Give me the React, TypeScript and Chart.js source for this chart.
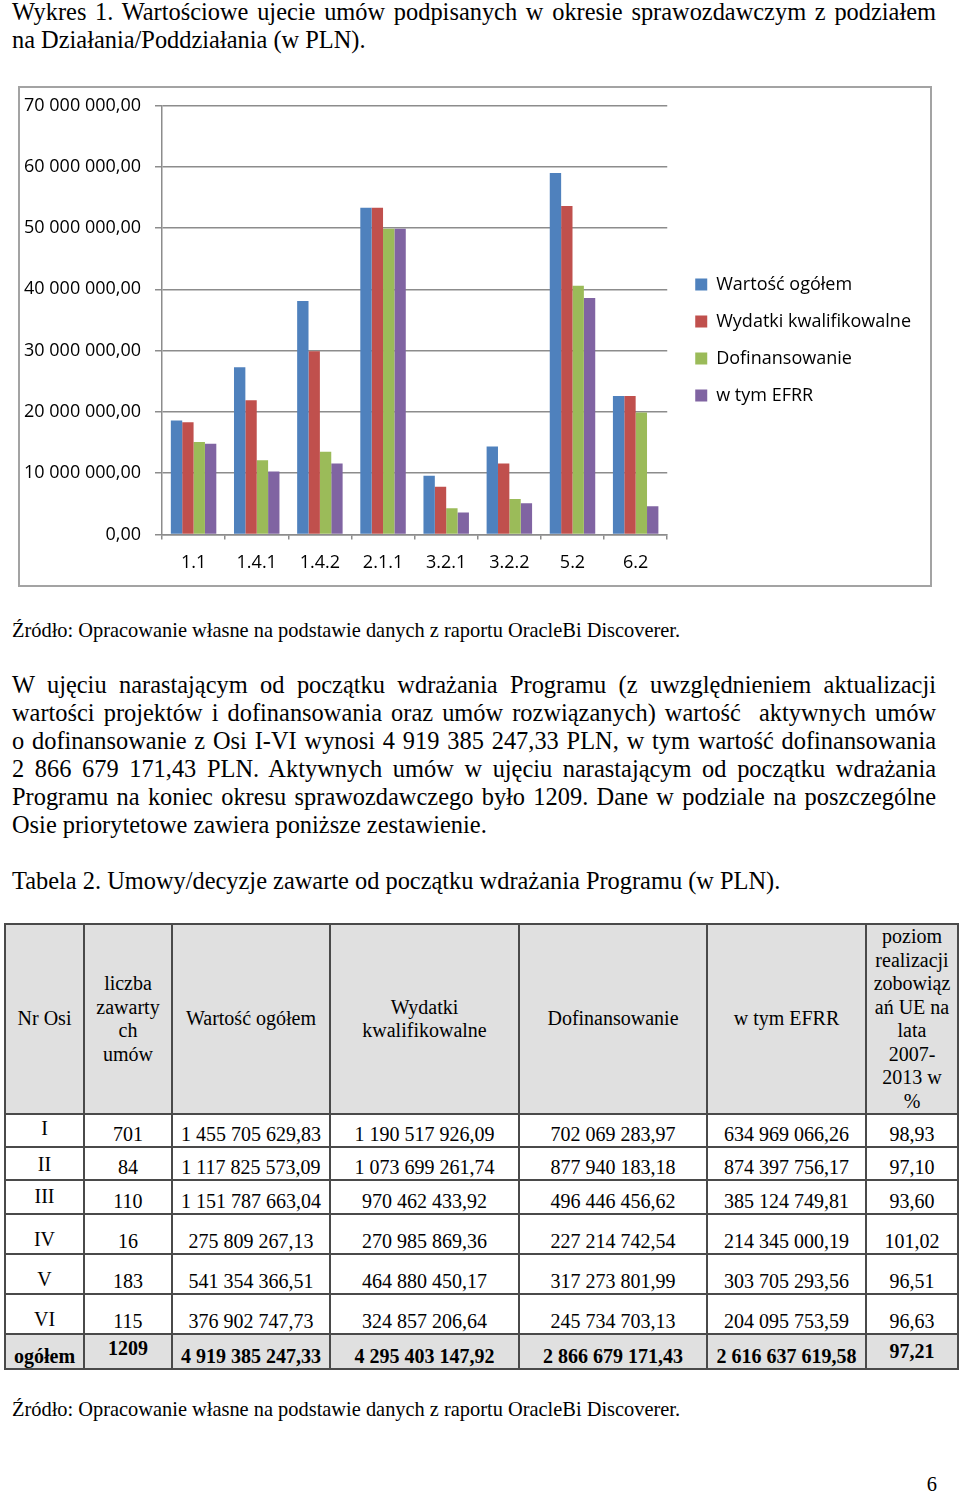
import React, { useEffect, useRef } from 'react';
import { Chart, registerables } from 'chart.js';

Chart.register(...registerables);

// ---------- chart data ----------
const categories = ['1.1', '1.4.1', '1.4.2', '2.1.1', '3.2.1', '3.2.2', '5.2', '6.2'];
const seriesNames = ['Wartość ogółem', 'Wydatki kwalifikowalne', 'Dofinansowanie', 'w tym EFRR'];
const wartoscOgolem = [18.6e6, 27.3e6, 38.1e6, 53.3e6, 9.6e6, 14.35e6, 59.0e6, 22.6e6];
const wydatkiKwalifikowalne = [18.3e6, 21.9e6, 29.9e6, 53.3e6, 7.8e6, 11.6e6, 53.6e6, 22.6e6];
const dofinansowanie = [15.1e6, 12.1e6, 13.5e6, 49.9e6, 4.3e6, 5.8e6, 40.6e6, 19.9e6];
const wTymEFRR = [14.8e6, 10.3e6, 11.6e6, 49.9e6, 3.6e6, 5.1e6, 38.6e6, 4.6e6];
const seriesValues = [wartoscOgolem, wydatkiKwalifikowalne, dofinansowanie, wTymEFRR];
const seriesColors = ['#4F81BD', '#C0504D', '#9BBB59', '#8064A2'];
const yMax = 70e6;
const yStep = 10e6;

// ---------- table data ----------
const osie = ['I', 'II', 'III', 'IV', 'V', 'VI'];
const liczbaUmow = ['701', '84', '110', '16', '183', '115'];
const wartoscOsi = ['1 455 705 629,83', '1 117 825 573,09', '1 151 787 663,04', '275 809 267,13', '541 354 366,51', '376 902 747,73'];
const wydatkiOsi = ['1 190 517 926,09', '1 073 699 261,74', '970 462 433,92', '270 985 869,36', '464 880 450,17', '324 857 206,64'];
const dofinansowanieOsi = ['702 069 283,97', '877 940 183,18', '496 446 456,62', '227 214 742,54', '317 273 801,99', '245 734 703,13'];
const efrrOsi = ['634 969 066,26', '874 397 756,17', '385 124 749,81', '214 345 000,19', '303 705 293,56', '204 095 753,59'];
const poziomOsi = ['98,93', '97,10', '93,60', '101,02', '96,51', '96,63'];
const sumaRow = ['ogółem', '1209', '4 919 385 247,33', '4 295 403 147,92', '2 866 679 171,43', '2 616 637 619,58', '97,21'];

const titleLines = [
  'Wykres 1. Wartościowe ujecie umów podpisanych w okresie sprawozdawczym z podziałem',
  'na Działania/Poddziałania (w PLN).',
];
const paragraphLines = [
  'W ujęciu narastającym od początku wdrażania Programu (z uwzględnieniem aktualizacji',
  'wartości projektów i dofinansowania oraz umów rozwiązanych) wartość  aktywnych umów',
  'o dofinansowanie z Osi I-VI wynosi 4 919 385 247,33 PLN, w tym wartość dofinansowania',
  '2 866 679 171,43 PLN. Aktywnych umów w ujęciu narastającym od początku wdrażania',
  'Programu na koniec okresu sprawozdawczego było 1209. Dane w podziale na poszczególne',
  'Osie priorytetowe zawiera poniższe zestawienie.',
];
const sourceText = 'Źródło: Opracowanie własne na podstawie danych z raportu OracleBi Discoverer.';
const tableTitle = 'Tabela 2. Umowy/decyzje zawarte od początku wdrażania Programu (w PLN).';

const fmtTick = (v: number) =>
  Math.round(v).toString().replace(/\B(?=(\d{3})+(?!\d))/g, ' ') + ',00';

const serif = '"Liberation Serif", "Times New Roman", serif';
const sans = '"Open Sans"';
const gridColor = '#8c8c8c';

const legendShift = {
  id: 'legendShift',
  afterLayout(chart: any) {
    const l = chart.legend;
    if (l) {
      l.left += 9;
      l.right += 9;
    }
  },
};

function TextLines({ lines, top, size, lineHeight }: { lines: string[]; top: number; size: number; lineHeight: number }) {
  return (
    <div style={{ position: 'absolute', left: 12, top, width: 924, fontSize: size, lineHeight: lineHeight + 'px' }}>
      {lines.map((t, i) => {
        const just = i < lines.length - 1;
        return (
          <div key={i} style={{ textAlign: just ? 'justify' : 'left', textAlignLast: just ? 'justify' : 'left', whiteSpace: 'pre-wrap' } as any}>
            {t}
          </div>
        );
      })}
    </div>
  );
}

const cellBorder = '2px solid #4a4a4a';
const headBg = '#e0e0e0';

export default function App() {
  const canvasRef = useRef<HTMLCanvasElement>(null);

  useEffect(() => {
    const c = canvasRef.current;
    if (!c) return;
    const chart = new Chart(c, {
      type: 'bar',
      data: {
        labels: categories,
        datasets: seriesNames.map((name, i) => ({
          label: name,
          data: seriesValues[i],
          backgroundColor: seriesColors[i],
          borderWidth: 0,
          categoryPercentage: 0.72,
          barPercentage: 1,
        })),
      },
      options: {
        responsive: false,
        animation: false,
        devicePixelRatio: 1,
        layout: { padding: { left: 4, top: 17.5, right: 18, bottom: 10.5 } },
        plugins: {
          legend: {
            position: 'right',
            align: 'center',
            maxWidth: 300,
            labels: {
              boxWidth: 12,
              boxHeight: 12,
              padding: 19,
              color: '#000',
              font: { family: sans, size: 18 },
            },
          },
          tooltip: { enabled: false },
        },
        scales: {
          x: {
            grid: { drawOnChartArea: false, drawTicks: true, tickLength: 5, color: gridColor, lineWidth: 1.5, offset: true },
            border: { color: gridColor, width: 1.5 },
            ticks: { color: '#000', font: { family: sans, size: 18 }, padding: 13, maxRotation: 0, autoSkip: false },
            afterFit: (s: any) => { s.height = 40; s.paddingLeft = 0; s.paddingRight = 0; },
          },
          y: {
            min: 0,
            max: yMax,
            ticks: { stepSize: yStep, color: '#000', font: { family: sans, size: 18 }, padding: 14, callback: (v: any) => fmtTick(Number(v)) },
            grid: { color: gridColor, lineWidth: 1.5, tickLength: 7 },
            border: { color: gridColor, width: 1.5 },
            afterFit: (s: any) => { s.width = 138; s.paddingTop = 0; s.paddingBottom = 0; },
          },
        },
      } as any,
      plugins: [legendShift],
    });
    let alive = true;
    const fonts = (document as any).fonts;
    if (fonts && fonts.load) {
      Promise.all([fonts.load('18px "Open Sans"')]).then(() => {
        if (alive) chart.update();
      }).catch(() => {});
    }
    return () => { alive = false; chart.destroy(); };
  }, []);

  const td = (extra: React.CSSProperties = {}): React.CSSProperties => ({
    border: cellBorder,
    textAlign: 'center',
    verticalAlign: 'bottom',
    padding: 0,
    lineHeight: '23px',
    ...extra,
  });
  const th = (extra: React.CSSProperties = {}): React.CSSProperties => ({
    border: cellBorder,
    background: headBg,
    textAlign: 'center',
    verticalAlign: 'middle',
    padding: 0,
    fontWeight: 'normal',
    lineHeight: '23.5px',
    ...extra,
  });
  const rowHeights = [33, 33, 34, 40, 40, 40];
  const nrPad = [6, 3, 5, 2, 2, 2];

  return (
    <div style={{ position: 'absolute', left: 0, top: 0, width: 960, height: 1493, background: '#fff', fontFamily: serif, color: '#000', overflow: 'hidden' }}>
      <TextLines lines={titleLines} top={-2} size={24.4} lineHeight={28} />

      <div style={{ position: 'absolute', left: 18, top: 86, width: 914, height: 501, boxSizing: 'border-box', border: '2px solid #a3a3a3' }}>
        <canvas ref={canvasRef} width={910} height={497} style={{ display: 'block', width: 910, height: 497 }} />
      </div>

      <div style={{ position: 'absolute', left: 12, top: 618, fontSize: 20.4, lineHeight: '24px', whiteSpace: 'nowrap' }}>{sourceText}</div>

      <TextLines lines={paragraphLines} top={671} size={24.4} lineHeight={28} />

      <div style={{ position: 'absolute', left: 12, top: 867, fontSize: 24.4, lineHeight: '28px', whiteSpace: 'nowrap' }}>{tableTitle}</div>

      <table style={{ position: 'absolute', left: 4, top: 923, width: 953, borderCollapse: 'collapse', tableLayout: 'fixed', fontSize: 20, fontFamily: serif }}>
        <colgroup>
          <col style={{ width: 79 }} />
          <col style={{ width: 88 }} />
          <col style={{ width: 158 }} />
          <col style={{ width: 189 }} />
          <col style={{ width: 188 }} />
          <col style={{ width: 159 }} />
          <col style={{ width: 92 }} />
        </colgroup>
        <thead>
          <tr style={{ height: 189 }}>
            <th style={th()}>Nr Osi</th>
            <th style={th()}>liczba<br />zawarty<br />ch<br />umów</th>
            <th style={th()}>Wartość ogółem</th>
            <th style={th()}>Wydatki<br />kwalifikowalne</th>
            <th style={th()}>Dofinansowanie</th>
            <th style={th()}>w tym EFRR</th>
            <th style={th({ verticalAlign: 'top', paddingTop: 0 })}>poziom<br />realizacji<br />zobowiąz<br />ań UE na<br />lata<br />2007-<br />2013 w<br />%</th>
          </tr>
        </thead>
        <tbody>
          {osie.map((o, i) => (
            <tr key={o} style={{ height: rowHeights[i] }}>
              <td style={td({ paddingBottom: nrPad[i] })}>{o}</td>
              <td style={td()}>{liczbaUmow[i]}</td>
              <td style={td()}>{wartoscOsi[i]}</td>
              <td style={td()}>{wydatkiOsi[i]}</td>
              <td style={td()}>{dofinansowanieOsi[i]}</td>
              <td style={td()}>{efrrOsi[i]}</td>
              <td style={td()}>{poziomOsi[i]}</td>
            </tr>
          ))}
          <tr style={{ height: 35 }}>
            {sumaRow.map((v, i) => (
              <td key={i} style={td({ background: headBg, fontWeight: 'bold', paddingBottom: i === 1 ? 8 : i === 6 ? 5 : 0 })}>{v}</td>
            ))}
          </tr>
        </tbody>
      </table>

      <div style={{ position: 'absolute', left: 12, top: 1397, fontSize: 20.4, lineHeight: '24px', whiteSpace: 'nowrap' }}>{sourceText}</div>

      <div style={{ position: 'absolute', right: 23, top: 1472, fontSize: 20.4, lineHeight: '24px' }}>6</div>
    </div>
  );
}
